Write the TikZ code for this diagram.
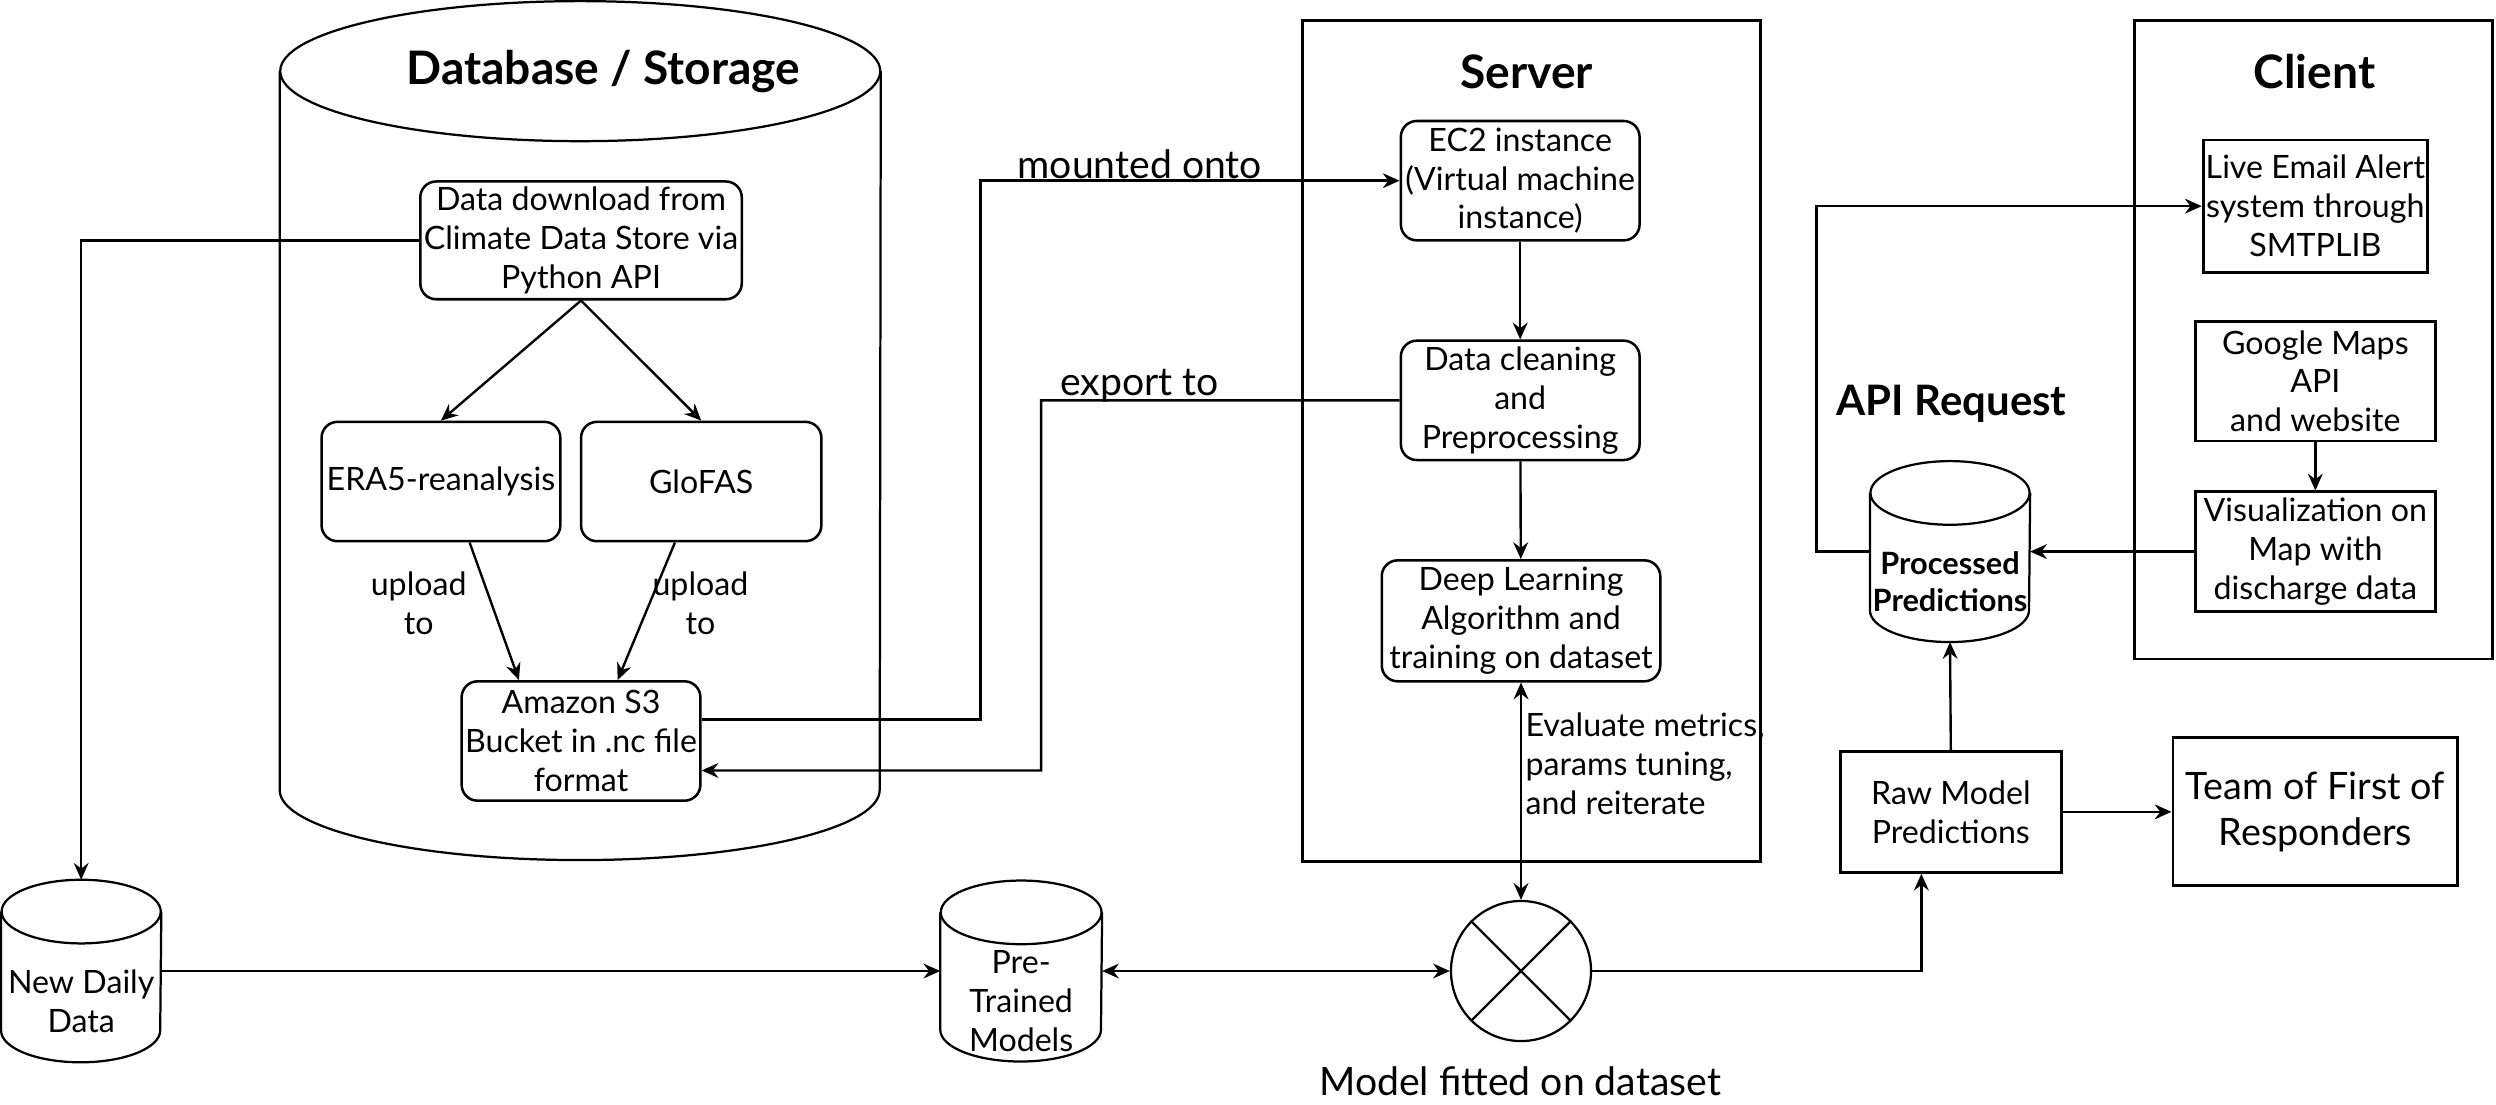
\documentclass[tikz,border=0pt]{standalone}
\usepackage{fontspec}
\setmainfont{Lato}
\usetikzlibrary{arrows.meta}

% cylinder outline round a named node: node, x radius, y radius
\newcommand\dbdraw[3]{%
  \draw[cylline] ([yshift=-#3]#1.north) ellipse [x radius=#2, y radius=#3];
  \draw[cylline] ([yshift=-#3]#1.north west) -- ([yshift=#3]#1.south west)
    arc [start angle=180, end angle=360, x radius=#2, y radius=#3]
    -- ([yshift=-#3]#1.north east);
}

\begin{document}
\begin{tikzpicture}[x=0.02cm, y=-0.02cm,
    font=\fontsize{11.5}{13.9}\selectfont,
    rbox/.style={draw, rounded corners=0.2cm, line width=0.9pt, align=center, inner sep=0pt},
    sbox/.style={draw, line width=1pt, align=center, inner sep=0pt},
    zone/.style={draw, line width=1pt, inner sep=0pt},
    cylnode/.style={inner sep=0pt},
    cyltext/.style={align=center, inner sep=0pt, yshift=-0.38cm},
    cylline/.style={line width=0.8pt},
    headtxt/.style={font=\fontsize{16.5}{19}\selectfont\bfseries},
    biglbl/.style={font=\fontsize{14}{17}\selectfont},
    arr/.style={-{Stealth[length=6pt,width=5.3pt,inset=2pt]}, line width=0.85pt},
    twoway/.style={{Stealth[length=6pt,width=5.3pt,inset=2pt]}-{Stealth[length=6pt,width=5.3pt,inset=2pt]}, line width=0.85pt}]
  \useasboundingbox (0,0) rectangle (1568,693.6);

  % storage
  \node[cylnode, minimum width=7.54cm, minimum height=10.78cm] (dbstore) at (364.5,270.5) {};
  \dbdraw{dbstore}{3.77cm}{0.88cm}
  \node[headtxt] (dbtitle) at (379,45) {Database / Storage};
  \node[rbox, minimum width=4.04cm, minimum height=1.48cm] (download) at (365,151) {Data download from\\Climate Data Store via\\Python API};
  \node[rbox, minimum width=3cm, minimum height=1.5cm] (era) at (277,302.5) {ERA5-reanalysis};
  \node[rbox, minimum width=3.02cm, minimum height=1.5cm] (glofas) at (440.5,302.5) {GloFAS};
  \node[rbox, minimum width=3cm, minimum height=1.5cm] (amazon) at (365,465.5) {Amazon S3\\Bucket in .nc file\\format};
  \node[align=center] (uplbla) at (263,379) {upload\\to};
  \node[align=center] (uplblb) at (440,379) {upload\\to};

  % server
  \node[zone, minimum width=5.76cm, minimum height=10.56cm] (server) at (962,277) {};
  \node[headtxt] (servertitle) at (959,45) {Server};
  \node[rbox, minimum width=3cm, minimum height=1.5cm] (ectwo) at (955,113.5) {EC2 instance\\(Virtual machine\\instance)};
  \node[rbox, minimum width=3cm, minimum height=1.5cm] (clean) at (955,251.5) {Data cleaning\\and\\Preprocessing};
  \node[rbox, minimum width=3.5cm, minimum height=1.52cm] (deep) at (955.5,390) {Deep Learning\\Algorithm and\\training on dataset};
  \node[anchor=west, align=left, inner sep=0pt] (evallbl) at (958,480) {Evaluate metrics,\\params tuning,\\and reiterate};

  % model fitting
  \node[circle, draw, line width=0.8pt, minimum size=1.76cm, inner sep=0pt] (fit) at (955.5,610) {};
  \draw[cylline] (fit.45) -- (fit.225) (fit.135) -- (fit.315);
  \node[biglbl] (fitlbl) at (955,679) {Model fitted on dataset};
  \node[cylnode, minimum width=2cm, minimum height=2.28cm, label={[cyltext]center:New Daily\\Data}] (newdaily) at (51,610) {};
  \dbdraw{newdaily}{1cm}{0.4cm}
  \node[cylnode, minimum width=2.02cm, minimum height=2.26cm, label={[cyltext]center:Pre-\\Trained\\Models}] (pretrained) at (641.5,610) {};
  \dbdraw{pretrained}{1.01cm}{0.4cm}

  % predictions
  \node[sbox, minimum width=2.78cm, minimum height=1.52cm] (rawpred) at (1225.5,510) {Raw Model\\Predictions};
  \node[sbox, minimum width=3.58cm, minimum height=1.86cm, font=\fontsize{13.5}{16.5}\selectfont] (team) at (1454.5,510) {Team of First of\\Responders};
  \node[cylnode, minimum width=2cm, minimum height=2.26cm, label={[cyltext, font=\fontsize{11}{13}\selectfont\bfseries]center:Processed\\Predictions}] (procpred) at (1225,346.5) {};
  \dbdraw{procpred}{1cm}{0.4cm}
  \node[headtxt, font=\fontsize{15}{18}\selectfont\bfseries] (apilbl) at (1226,254) {API Request};

  % client
  \node[zone, minimum width=4.5cm, minimum height=8.02cm] (client) at (1453.5,213.5) {};
  \node[headtxt] (clienttitle) at (1454,45) {Client};
  \node[sbox, minimum width=2.82cm, minimum height=1.66cm] (email) at (1454.5,129.5) {Live Email Alert\\system through\\SMTPLIB};
  \node[sbox, minimum width=3.02cm, minimum height=1.5cm] (gmaps) at (1454.5,239.5) {Google Maps\\API\\and website};
  \node[sbox, minimum width=3.02cm, minimum height=1.5cm] (visual) at (1454.5,346.5) {Visualization on\\Map with\\discharge data};

  % connectors
  \draw[arr] (download.west) -| (newdaily.north);
  \draw[arr] (download.south) -- (era.north);
  \draw[arr] (download.south) -- (glofas.north);
  \draw[arr] ([xshift=0.36cm]era.south) -- ([xshift=-0.78cm]amazon.north);
  \draw[arr] ([xshift=-0.33cm]glofas.south) -- ([xshift=0.46cm]amazon.north);
  \coordinate (mount) at (616,113.5);
  \draw[arr] ([yshift=0.27cm]amazon.east) -| (mount) -- (ectwo.west);
  \node[biglbl] (mountlbl) at (716,103) {mounted onto};
  \coordinate (export) at (654,484);
  \draw[arr] (clean.west) -| (export) -- ([yshift=-0.37cm]amazon.east);
  \node[biglbl] (exportlbl) at (716,242) {export to};
  \draw[arr] (ectwo) -- (clean);
  \draw[arr] (clean) -- (deep);
  \draw[twoway] (deep.south) -- (fit.north);
  \draw[arr] (newdaily.east) -- (pretrained.west);
  \draw[twoway] (pretrained.east) -- (fit.west);
  \draw[arr] (fit.east) -| ([xshift=-0.37cm]rawpred.south);
  \draw[arr] (rawpred.north) -- (procpred.south);
  \draw[arr] (rawpred) -- (team);
  \coordinate (alert) at (1141,129.5);
  \draw[arr] (procpred.west) -| (alert) -- (email.west);
  \draw[arr] (gmaps) -- (visual);
  \draw[arr] (visual) -- (procpred);
\end{tikzpicture}
\end{document}
